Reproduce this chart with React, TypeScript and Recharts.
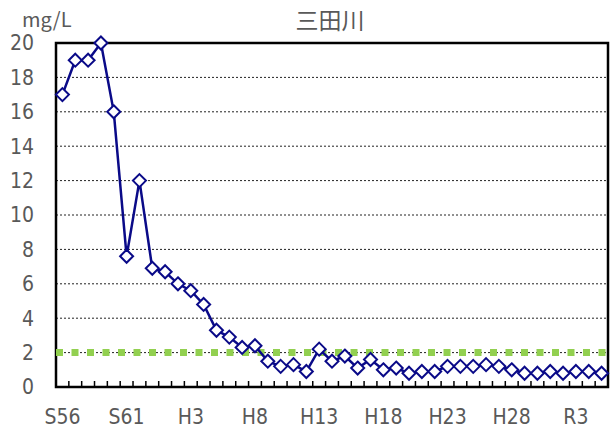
import { LineChart, Line, XAxis, YAxis, CartesianGrid, ReferenceLine, ReferenceArea } from "recharts";

// 年度 (S56 = 1981 ... R5 = 2023)
const years = [
  "S56", "S57", "S58", "S59", "S60", "S61", "S62", "S63",
  "H1", "H2", "H3", "H4", "H5", "H6", "H7", "H8", "H9", "H10",
  "H11", "H12", "H13", "H14", "H15", "H16", "H17", "H18", "H19", "H20",
  "H21", "H22", "H23", "H24", "H25", "H26", "H27", "H28", "H29", "H30",
  "R1", "R2", "R3", "R4", "R5",
];

// BOD (mg/L)
const bod = [
  17, 19, 19, 20, 16, 7.6, 12, 6.9, 6.7, 6.0, 5.6, 4.8, 3.3, 2.9, 2.3, 2.4, 1.5, 1.2,
  1.3, 0.9, 2.2, 1.5, 1.8, 1.1, 1.6, 1.0, 1.1, 0.8, 0.9, 0.9, 1.2, 1.2, 1.2, 1.3, 1.2, 1.0,
  0.8, 0.8, 0.9, 0.8, 0.9, 0.9, 0.8,
];

const standard = 2; // 環境基準
const yTicks = [0, 2, 4, 6, 8, 10, 12, 14, 16, 18, 20];
const labelYears = ["S56", "S61", "H3", "H8", "H13", "H18", "H23", "H28", "R3"];

const data = years.map((label, i) => ({ i: i + 1, label, bod: bod[i] }));

const labelTicks = labelYears.map((l) => years.indexOf(l) + 1);
const boundaryTicks = years.slice(1).map((_, i) => i + 1.5);
const xTicks = [...labelTicks, ...boundaryTicks].sort((a, b) => a - b);

const NAVY = "#0a0a88";
const GREEN = "#92D050";
const TEXT = "#595959";
const FONT = "'Liberation Sans Narrow', 'DejaVu Sans Condensed', 'Noto Sans CJK JP', sans-serif";

function Diamond(props: any) {
  const { cx, cy } = props;
  if (cx == null || cy == null) return null;
  const r = 6.5;
  return (
    <path
      d={`M${cx},${cy - r}L${cx + r},${cy}L${cx},${cy + r}L${cx - r},${cy}Z`}
      fill="#fff"
      stroke={NAVY}
      strokeWidth={2}
    />
  );
}

function XTick(props: any) {
  const { x, y, payload } = props;
  const v = payload.value as number;
  if (Number.isInteger(v)) {
    return (
      <text x={x} y={y + 22} dy="0.71em" textAnchor="middle" fill={TEXT} fontSize={21} fontFamily={FONT}>
        {years[v - 1]}
      </text>
    );
  }
  return <line x1={x} y1={y} x2={x} y2={y - 6} stroke="#000" strokeWidth={1.5} />;
}

export default function App() {
  return (
    <div style={{ position: "absolute", left: 0, top: 0, width: 610, height: 432, background: "#fff" }}>
      <div style={{ position: "absolute", left: 0, width: 660, top: 2, textAlign: "center", fontSize: 23, color: TEXT, fontFamily: "'Noto Sans CJK JP', sans-serif" }}>
        三田川
      </div>
      <div style={{ position: "absolute", left: 22, top: 4, fontSize: 20, color: TEXT, fontFamily: "'Noto Sans CJK JP', sans-serif" }}>
        mg/L
      </div>
      <LineChart width={610} height={432} data={data} margin={{ top: 43, right: 2, left: 0, bottom: 0 }}>
        <CartesianGrid horizontal vertical={false} stroke="#222" strokeDasharray="2 2" />
        <XAxis
          dataKey="i"
          type="number"
          domain={[0.5, 43.5]}
          ticks={xTicks}
          interval={0}
          height={45}
          tickSize={0}
          tickMargin={0}
          tickLine={false}
          axisLine={false}
          tick={<XTick />}
        />
        <YAxis
          domain={[0, 20]}
          ticks={yTicks}
          interval={0}
          width={56}
          tickSize={20}
          tickMargin={2}
          tickLine={false}
          axisLine={false}
          tick={{ fill: TEXT, fontSize: 21, fontFamily: FONT }}
        />
        <ReferenceLine y={standard} stroke={GREEN} strokeWidth={7} strokeDasharray="7 8.5" />
        <Line
          type="linear"
          dataKey="bod"
          stroke={NAVY}
          strokeWidth={2.5}
          dot={<Diamond />}
          activeDot={false}
          isAnimationActive={false}
        />
        <ReferenceArea x1={0.5} x2={43.5} y1={0} y2={20} fill="none" stroke="#000" strokeWidth={2.5} />
      </LineChart>
    </div>
  );
}
